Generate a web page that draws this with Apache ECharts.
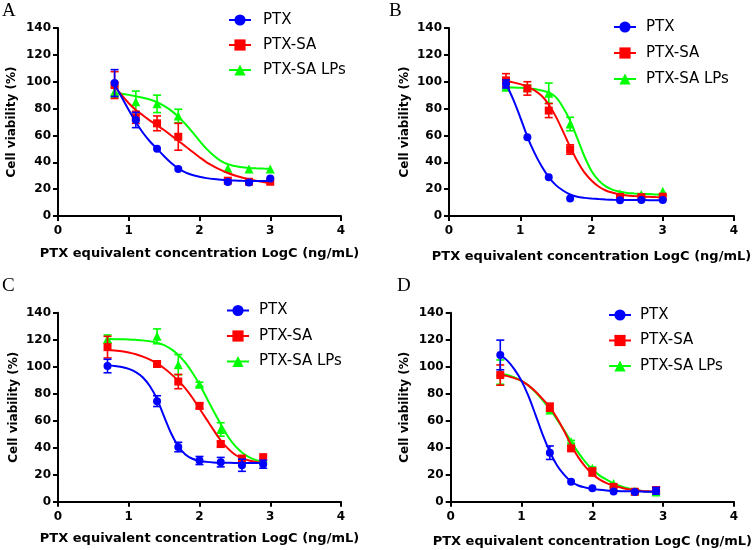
<!DOCTYPE html>
<html>
<head>
<meta charset="utf-8">
<script src="https://cdn.jsdelivr.net/npm/echarts@6/dist/echarts.min.js"></script>
<style>
html,body{margin:0;padding:0;background:#fff;}
#chart{width:756px;height:550px;}
</style>
</head>
<body>
<div id="chart"></div>
<script>
// ---- data ----
var seriesNames = ['PTX', 'PTX-SA', 'PTX-SA LPs'];
var panelLabels = ['A', 'B', 'C', 'D'];
var xTicks = [0, 1, 2, 3, 4];
var yTicks = [0, 20, 40, 60, 80, 100, 120, 140];

// measured concentrations (log)
var xAB = [0.8, 1.1, 1.4, 1.7, 2.4, 2.7, 3.0];
var xCD = [0.7, 1.4, 1.7, 2.0, 2.3, 2.6, 2.9];

// panel A
var A_PTX = [99, 71.5, 50, 35, 25.3, 25, 28];
var A_PTX_err = [10, 5.7, 0, 0, 0, 0, 0];
var A_SA = [97.5, 73.5, 69, 59, 26.3, 25.5, 25.5];
var A_SA_err = [10, 4.5, 5.5, 10, 0, 0, 0];
var A_LP = [92.5, 85, 83.5, 74.5, 35.5, 35, 35];
var A_LP_err = [4, 8, 6.5, 5, 0, 0, 0];
// panel B
var B_PTX = [98.3, 58.6, 28.8, 13, 11.8, 12, 12];
var B_PTX_err = [3, 0, 0, 0, 0, 0, 0];
var B_SA = [101, 95, 78.5, 49.5, 14.2, 14, 14.4];
var B_SA_err = [5, 5, 5.2, 3.5, 0, 0, 0];
var B_LP = [95.8, 95.5, 91.5, 68.5, 16.5, 16, 18.5];
var B_LP_err = [2, 2, 7.5, 5, 0, 0, 0];
// panel C
var C_PTX = [100.5, 74.5, 40.5, 30.5, 29.3, 27, 27.8];
var C_PTX_err = [5, 4, 3.5, 3, 3.5, 4.5, 3];
var C_SA = [114.5, 102, 89, 71, 42.7, 32, 33];
var C_SA_err = [8, 1.5, 5.3, 2, 2, 0, 0];
var C_LP = [120.5, 122.5, 101.5, 87, 53.5, 31, 32];
var C_LP_err = [3, 5.5, 7.5, 1.5, 5, 0, 0];
// panel D
var D_PTX = [108.7, 36.3, 14.8, 10, 7.6, 7.2, 8.1];
var D_PTX_err = [11, 5, 0, 0, 0, 0, 2.5];
var D_SA = [93.8, 70, 39.5, 22, 11, 7.4, 8.6];
var D_SA_err = [7.5, 3, 1.5, 3, 0, 0, 2];
var D_LP = [96, 68, 44.4, 24.7, 13.5, 8, 7.2];
var D_LP_err = [9, 1, 1, 1, 0, 0, 0];

// fitted curves
var fitXAB = [0.8,0.9,1.0,1.1,1.2,1.3,1.4,1.5,1.6,1.7,1.8,1.9,2.0,2.1,2.2,2.3,2.4,2.5,2.6,2.7,2.8,2.9,3.0];
var fitXCD = [0.7,0.8,0.9,1.0,1.1,1.2,1.3,1.4,1.5,1.6,1.7,1.8,1.9,2.0,2.1,2.2,2.3,2.4,2.5,2.6,2.7,2.8,2.9];
var fitA_PTX = [98,88.5,79,70,62,55.5,50,44.5,39.5,35.5,32.5,30.5,29.2,28.2,27.5,27,26.6,26.4,26.2,26.1,26,26,26];
var fitA_SA  = [96.5,90,84,79,75,71,67.5,64,60,56,52,47.8,43.8,40,37,34.3,32,30.2,28.7,27.3,26.2,25.3,24.5];
var fitA_LP  = [91.5,91,90.2,89.2,88,86.8,84.8,82,78.5,74,68.5,62.5,56,50,45,41,38.5,37.2,36.3,35.8,35.5,35.3,35.2];
var fitB_PTX = [98.5,87,73.5,59,47,37,29,23,19,16,14.3,13.5,13,12.6,12.3,12.1,12,12,11.9,11.9,11.8,11.8,11.8];
var fitB_SA  = [100.5,99.5,98.2,96.3,93.5,89.5,83,74,63,51.5,41,32.5,26.5,22,19,17.3,16,15.2,14.8,14.5,14.3,14.1,14];
var fitB_LP  = [95.8,95.7,95.5,95.1,94.5,93.5,92,88.5,81,71,58,44.5,33.5,26.5,22,19.5,18,17.2,16.8,16.5,16.3,16.1,16];
var fitC_PTX = [101,100.5,99.7,98.4,96,92,85.5,76,63,50.5,41,35,31.8,30.2,29.5,29.1,28.9,28.8,28.7,28.7,28.6,28.6,28.6];
var fitC_SA  = [112.5,112,111.5,110.5,109.2,107.5,105.3,102.5,98.8,94.5,89.5,84,77,69,61,53,45.5,39.5,35,32.3,30.5,29.5,28.7];
var fitC_LP  = [120.5,120.4,120.3,120.2,119.9,119.5,118.8,117.8,116,113,108.7,103,95.5,87,77,67,57.5,48.5,41.5,36.5,33,30.8,29.3];
var fitD_PTX = [108.7,104.5,98,89.5,78,64,49.5,37,27,20,15,12,10.5,9.5,8.8,8.3,8,7.8,7.7,7.6,7.5,7.4,7.4];
var fitD_SA  = [94,93,91.5,89.5,86,81.5,76,70,62,52.5,42,33,26,20.5,16.5,13.8,12,10.5,9.3,8.5,8,7.7,7.4];
var fitD_LP  = [95,93.8,92,89.5,86,81,75,68.5,61,53,44.5,36.5,29.5,24,19.5,16.3,13.5,11.5,10,8.8,8,7.4,7];

// ---- build chart ----
var colors = ['#0000FF', '#FF0000', '#00FF00'];
var symbols = ['circle', 'rect', 'triangle'];
var FONT = 'DejaVu Sans';

var panels = [
  {x: xAB, fx: fitXAB, vals: [A_PTX, A_SA, A_LP], errs: [A_PTX_err, A_SA_err, A_LP_err], fits: [fitA_PTX, fitA_SA, fitA_LP],
   grid: {left: 58, top: 28, width: 283, height: 188}, legend: {left: 223, top: 7.5, gap: 10, pad: 7}, xGap: 31, yGap: 40, lab: [2, 2]},
  {x: xAB, fx: fitXAB, vals: [B_PTX, B_SA, B_LP], errs: [B_PTX_err, B_SA_err, B_LP_err], fits: [fitB_PTX, fitB_SA, fitB_LP],
   grid: {left: 449, top: 28, width: 285, height: 188}, legend: {left: 608, top: 14.5, gap: 11, pad: 5}, xGap: 34, yGap: 38, lab: [389, 2]},
  {x: xCD, fx: fitXCD, vals: [C_PTX, C_SA, C_LP], errs: [C_PTX_err, C_SA_err, C_LP_err], fits: [fitC_PTX, fitC_SA, fitC_LP],
   grid: {left: 58, top: 312.7, width: 283, height: 189}, legend: {left: 221, top: 298, gap: 10.5, pad: 5}, xGap: 30, yGap: 38, lab: [2, 277]},
  {x: xCD, fx: fitXCD, vals: [D_PTX, D_SA, D_LP], errs: [D_PTX_err, D_SA_err, D_LP_err], fits: [fitD_PTX, fitD_SA, fitD_LP],
   grid: {left: 450.7, top: 312.7, width: 283.3, height: 189}, legend: {left: 603, top: 302.5, gap: 10.5, pad: 4}, xGap: 33, yGap: 40, lab: [397, 277]}
];

var grids = [], xAxes = [], yAxes = [], legends = [], curveSeries = [], markSeries = [], graphics = [];

function errRender(params, api) {
  var x = api.value(0), y = api.value(1), e = api.value(2);
  if (!(e > 0)) return null;
  var top = api.coord([x, y + e]);
  var bot = api.coord([x, y - e]);
  var w = 4;
  var st = {stroke: api.visual('color'), lineWidth: 1.6};
  return {type: 'group', children: [
    {type: 'line', shape: {x1: top[0], y1: top[1], x2: bot[0], y2: bot[1]}, style: st},
    {type: 'line', shape: {x1: top[0] - w, y1: top[1], x2: top[0] + w, y2: top[1]}, style: st},
    {type: 'line', shape: {x1: bot[0] - w, y1: bot[1], x2: bot[0] + w, y2: bot[1]}, style: st}
  ]};
}

panels.forEach(function (p, i) {
  grids.push(p.grid);
  var axisCommon = {
    axisLine: {show: true, onZero: false, lineStyle: {color: '#000', width: 2}},
    axisTick: {show: true, inside: false, length: 5, lineStyle: {color: '#000', width: 2}},
    splitLine: {show: false},
    axisLabel: {color: '#000', fontFamily: FONT, fontWeight: 'bold', fontSize: 12},
    nameTextStyle: {color: '#000', fontFamily: FONT, fontWeight: 'bold'}
  };
  xAxes.push(Object.assign({}, axisCommon, {
    type: 'value', gridIndex: i, min: xTicks[0], max: xTicks[xTicks.length - 1], interval: 1,
    name: 'PTX equivalent concentration LogC (ng/mL)', nameLocation: 'middle', nameGap: p.xGap,
    nameTextStyle: {color: '#000', fontFamily: FONT, fontWeight: 'bold', fontSize: 13},
    axisLabel: Object.assign({}, axisCommon.axisLabel, {margin: 9})
  }));
  yAxes.push(Object.assign({}, axisCommon, {
    type: 'value', gridIndex: i, min: yTicks[0], max: yTicks[yTicks.length - 1], interval: 20,
    name: 'Cell viability (%)', nameLocation: 'middle', nameGap: p.yGap, nameRotate: 90,
    nameTextStyle: {color: '#000', fontFamily: FONT, fontWeight: 'bold', fontSize: 12},
    axisLabel: Object.assign({}, axisCommon.axisLabel, {margin: 7})
  }));
  legends.push({
    data: seriesNames, orient: 'vertical', left: p.legend.left, top: p.legend.top,
    itemWidth: 22, itemHeight: 14, itemGap: p.legend.gap, selectedMode: false,
    textStyle: {color: '#000', fontFamily: FONT, fontSize: 15, padding: [0, 0, 0, p.legend.pad]}
  });
  graphics.push({type: 'text', left: p.lab[0], top: p.lab[1],
    style: {text: panelLabels[i], font: '19px "Liberation Serif"', fill: '#000'}});

  // draw order: LPs (bottom), SA, PTX (top)
  [2, 1, 0].forEach(function (k) {
    var base = 2 + (2 - k) * 3;
    var fitData = p.fx.map(function (xv, j) { return [xv, p.fits[k][j]]; });
    curveSeries.push({
      type: 'line', name: seriesNames[k], xAxisIndex: i, yAxisIndex: i,
      data: fitData, smooth: 0.3, showSymbol: false, symbol: symbols[k], symbolSize: 8,
      lineStyle: {color: colors[k], width: 2}, itemStyle: {color: colors[k]},
      z: base, silent: true
    });
    var errData = p.x.map(function (xv, j) { return [xv, p.vals[k][j], p.errs[k][j]]; });
    markSeries.push({
      type: 'custom', name: seriesNames[k], xAxisIndex: i, yAxisIndex: i,
      renderItem: errRender, data: errData, itemStyle: {color: colors[k]},
      encode: {x: 0, y: 1}, z: base + 1, silent: true
    });
    var ptData = p.x.map(function (xv, j) { return [xv, p.vals[k][j]]; });
    markSeries.push({
      type: 'scatter', name: seriesNames[k], xAxisIndex: i, yAxisIndex: i,
      data: ptData, symbol: symbols[k], symbolSize: k === 2 ? 9 : 8,
      itemStyle: {color: colors[k], opacity: 1}, z: base + 2, silent: true
    });
  });
});

// put PTX curves first so legend icons are taken from line series
curveSeries.sort(function (a, b) { return seriesNames.indexOf(a.name) - seriesNames.indexOf(b.name); });

var chart = echarts.init(document.getElementById('chart'), null, {renderer: 'canvas'});
chart.setOption({
  animation: false,
  backgroundColor: '#fff',
  grid: grids,
  xAxis: xAxes,
  yAxis: yAxes,
  legend: legends,
  graphic: graphics,
  series: curveSeries.concat(markSeries)
});
</script>
</body>
</html>
